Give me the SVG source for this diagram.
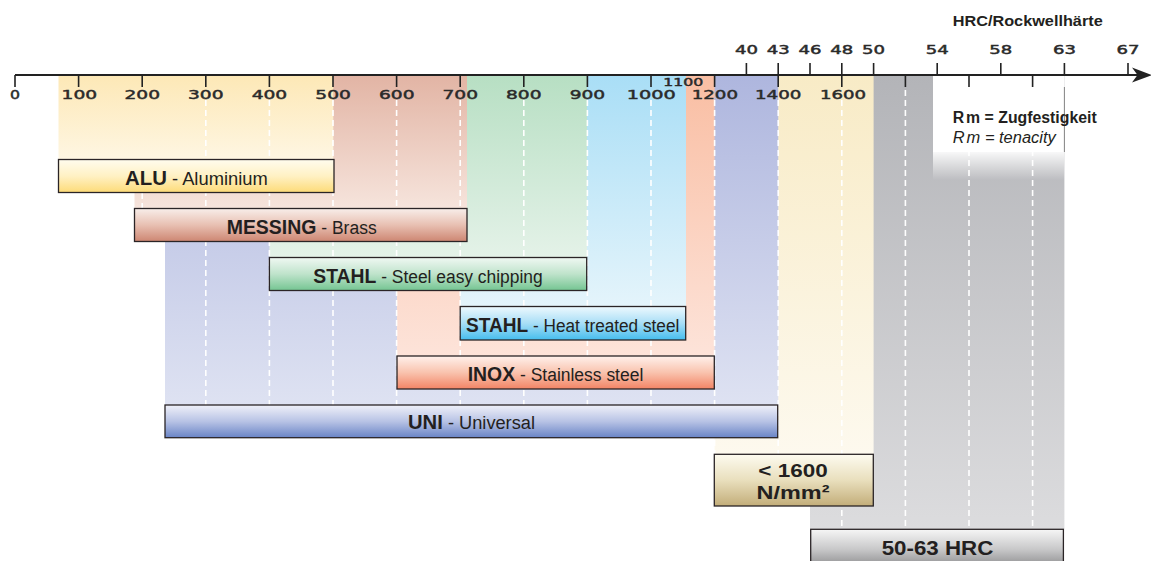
<svg xmlns="http://www.w3.org/2000/svg" width="1151" height="561" viewBox="0 0 1151 561">
<defs>
<style>
.tk{stroke:#222;stroke-width:1.6;fill:none}
.ax{stroke:#222;stroke-width:2.2;fill:none}
.dash{stroke:#fff;stroke-width:1.6;stroke-dasharray:6 4;fill:none}
.num{font-family:"DejaVu Sans",sans-serif;font-size:12px;fill:#2a2a2a;stroke:#2a2a2a;stroke-width:0.45}
.lbl{font-family:"Liberation Sans",Arial,sans-serif;fill:#231f20;white-space:pre}
.b{font-weight:bold;font-size:20px}
.r{font-size:18px}
.box{stroke:#2a2426;stroke-width:1.3}
</style>
<linearGradient id="gAluB" x1="0" y1="0" x2="0" y2="1"><stop offset="0" stop-color="#fde8b6"/><stop offset="1" stop-color="#fef6e2"/></linearGradient>
<linearGradient id="gMesB" x1="0" y1="0" x2="0" y2="1"><stop offset="0" stop-color="#e2b4a4"/><stop offset="1" stop-color="#f6e4dc"/></linearGradient>
<linearGradient id="gStaB" x1="0" y1="0" x2="0" y2="1"><stop offset="0" stop-color="#b7dfc3"/><stop offset="1" stop-color="#e4f2e8"/></linearGradient>
<linearGradient id="gHeaB" x1="0" y1="0" x2="0" y2="1"><stop offset="0" stop-color="#a9def6"/><stop offset="1" stop-color="#e4f4fb"/></linearGradient>
<linearGradient id="gInoB" x1="0" y1="0" x2="0" y2="1"><stop offset="0" stop-color="#f9bea3"/><stop offset="1" stop-color="#fde3d9"/></linearGradient>
<linearGradient id="gUniB" x1="0" y1="0" x2="0" y2="1"><stop offset="0" stop-color="#aeb6de"/><stop offset="1" stop-color="#dee2f2"/></linearGradient>
<linearGradient id="gCreB" x1="0" y1="0" x2="0" y2="1"><stop offset="0" stop-color="#f8ebc6"/><stop offset="1" stop-color="#fdf9ee"/></linearGradient>
<linearGradient id="gGryB" x1="0" y1="0" x2="0" y2="1"><stop offset="0" stop-color="#b3b4b8"/><stop offset="1" stop-color="#dcdcde"/></linearGradient>
<linearGradient id="gFade" x1="0" y1="0" x2="0" y2="1"><stop offset="0" stop-color="#fff" stop-opacity="0.9"/><stop offset="1" stop-color="#fff" stop-opacity="0"/></linearGradient>
<linearGradient id="gAlu" x1="0" y1="0" x2="0" y2="1"><stop offset="0" stop-color="#fffcee"/><stop offset="0.5" stop-color="#fff1c4"/><stop offset="1" stop-color="#fddb78"/></linearGradient>
<linearGradient id="gMes" x1="0" y1="0" x2="0" y2="1"><stop offset="0" stop-color="#f8eeea"/><stop offset="0.5" stop-color="#e8c0b2"/><stop offset="1" stop-color="#cd8672"/></linearGradient>
<linearGradient id="gSta" x1="0" y1="0" x2="0" y2="1"><stop offset="0" stop-color="#f0f8f3"/><stop offset="0.5" stop-color="#bfe3cb"/><stop offset="1" stop-color="#74c592"/></linearGradient>
<linearGradient id="gHea" x1="0" y1="0" x2="0" y2="1"><stop offset="0" stop-color="#eef9fe"/><stop offset="0.5" stop-color="#a8def6"/><stop offset="1" stop-color="#45bdee"/></linearGradient>
<linearGradient id="gIno" x1="0" y1="0" x2="0" y2="1"><stop offset="0" stop-color="#fff1ec"/><stop offset="0.5" stop-color="#f9c3ae"/><stop offset="1" stop-color="#f28465"/></linearGradient>
<linearGradient id="gUni" x1="0" y1="0" x2="0" y2="1"><stop offset="0" stop-color="#f0f1f9"/><stop offset="0.5" stop-color="#b8c3e5"/><stop offset="1" stop-color="#6984c6"/></linearGradient>
<linearGradient id="gCre" x1="0" y1="0" x2="0" y2="1"><stop offset="0" stop-color="#fdfbf0"/><stop offset="0.5" stop-color="#e9dfbd"/><stop offset="1" stop-color="#c2ad79"/></linearGradient>
<linearGradient id="gGry" x1="0" y1="0" x2="0" y2="1"><stop offset="0" stop-color="#f6f6f6"/><stop offset="0.5" stop-color="#c8c8c9"/><stop offset="1" stop-color="#858587"/></linearGradient>
</defs>

<rect width="1151" height="561" fill="#fff"/>

<g id="bands">
<rect x="810" y="75" width="254.4" height="454.3" fill="url(#gGryB)"/>
<rect x="933" y="76" width="131.4" height="76" fill="#fff"/>
<rect x="933" y="152" width="131.4" height="28" fill="url(#gFade)"/>
<rect x="714.6" y="75" width="159" height="379" fill="url(#gCreB)"/>
<rect x="165" y="75" width="613.2" height="330" fill="url(#gUniB)"/>
<rect x="397" y="75" width="317.6" height="281" fill="url(#gInoB)"/>
<rect x="460.2" y="75" width="225.8" height="231" fill="url(#gHeaB)"/>
<rect x="269.4" y="75" width="317.6" height="182.5" fill="url(#gStaB)"/>
<rect x="134.5" y="75" width="332.5" height="133.5" fill="url(#gMesB)"/>
<rect x="58.5" y="75" width="274.8" height="84.5" fill="url(#gAluB)"/>
<line x1="1064.4" y1="87" x2="1064.4" y2="152" stroke="#777" stroke-width="0.9"/>
</g>

<g id="grid">
<line class="dash" x1="142.2" y1="193" x2="142.2" y2="529"/>
<line class="dash" x1="205.8" y1="100" x2="205.8" y2="529"/>
<line class="dash" x1="269.4" y1="100" x2="269.4" y2="529"/>
<line class="dash" x1="333" y1="100" x2="333" y2="529"/>
<line class="dash" x1="396.6" y1="100" x2="396.6" y2="529"/>
<line class="dash" x1="460.2" y1="100" x2="460.2" y2="529"/>
<line class="dash" x1="523.8" y1="100" x2="523.8" y2="529"/>
<line class="dash" x1="587.4" y1="100" x2="587.4" y2="529"/>
<line class="dash" x1="651" y1="100" x2="651" y2="529"/>
<line class="dash" x1="714.6" y1="100" x2="714.6" y2="529"/>
<line class="dash" x1="778.2" y1="100" x2="778.2" y2="529"/>
<line class="dash" x1="841.8" y1="100" x2="841.8" y2="529"/>
<line class="dash" x1="905.4" y1="90" x2="905.4" y2="529"/>
<line class="dash" x1="969" y1="90" x2="969" y2="529"/>
<line class="dash" x1="1032.6" y1="90" x2="1032.6" y2="529"/>
</g>

<g id="axis">
<line class="ax" x1="15" y1="75" x2="1138" y2="75"/>
<polygon points="1152,75 1132,67.5 1137.5,75 1132,82.5" fill="#222"/>
<path class="tk" d="M15 75V87M78.6 75V87M142.2 75V87M205.8 75V87M269.4 75V87M333 75V87M396.6 75V87M460.2 75V87M523.8 75V87M587.4 75V87M651 75V87M714.6 75V87M778.2 75V87M841.8 75V87M905.4 75V87M969 75V87M1032.6 75V87"/>
<path class="tk" d="M746.4 63V75M778.2 63V75M810 63V75M841.8 63V75M873.6 63V75M937.2 63V75M1000.8 63V75M1064.4 63V75M1128 63V75"/>
<g class="num">
<text x="10" y="99" textLength="10" lengthAdjust="spacingAndGlyphs">0</text>
<text x="61.6" y="99" textLength="35.5" lengthAdjust="spacingAndGlyphs">100</text>
<text x="124.5" y="99" textLength="35.5" lengthAdjust="spacingAndGlyphs">200</text>
<text x="188" y="99" textLength="35.5" lengthAdjust="spacingAndGlyphs">300</text>
<text x="251.7" y="99" textLength="35.5" lengthAdjust="spacingAndGlyphs">400</text>
<text x="315.3" y="99" textLength="35.5" lengthAdjust="spacingAndGlyphs">500</text>
<text x="379" y="99" textLength="35.5" lengthAdjust="spacingAndGlyphs">600</text>
<text x="442.5" y="99" textLength="35.5" lengthAdjust="spacingAndGlyphs">700</text>
<text x="506" y="99" textLength="35.5" lengthAdjust="spacingAndGlyphs">800</text>
<text x="569.7" y="99" textLength="35.5" lengthAdjust="spacingAndGlyphs">900</text>
<text x="626.7" y="99" textLength="49" lengthAdjust="spacingAndGlyphs">1000</text>
<text x="663.3" y="86" font-size="11" textLength="40" lengthAdjust="spacingAndGlyphs">1100</text>
<text x="691.7" y="99" textLength="46.3" lengthAdjust="spacingAndGlyphs">1200</text>
<text x="755" y="99" textLength="46.3" lengthAdjust="spacingAndGlyphs">1400</text>
<text x="820" y="99" textLength="46" lengthAdjust="spacingAndGlyphs">1600</text>
<text x="735" y="54" textLength="23" lengthAdjust="spacingAndGlyphs">40</text>
<text x="766.8" y="54" textLength="23" lengthAdjust="spacingAndGlyphs">43</text>
<text x="798.5" y="54" textLength="23" lengthAdjust="spacingAndGlyphs">46</text>
<text x="830.3" y="54" textLength="23" lengthAdjust="spacingAndGlyphs">48</text>
<text x="862.1" y="54" textLength="23" lengthAdjust="spacingAndGlyphs">50</text>
<text x="925.7" y="54" textLength="23" lengthAdjust="spacingAndGlyphs">54</text>
<text x="989.3" y="54" textLength="23" lengthAdjust="spacingAndGlyphs">58</text>
<text x="1052.9" y="54" textLength="23" lengthAdjust="spacingAndGlyphs">63</text>
<text x="1116.5" y="54" textLength="23" lengthAdjust="spacingAndGlyphs">67</text>
</g>
<text class="lbl" x="952.7" y="25.8" font-size="15.5" font-weight="bold" fill="#2a2a2a" textLength="150" lengthAdjust="spacingAndGlyphs">HRC/Rockwellhärte</text>
</g>

<g id="legend">
<text class="lbl" x="952.7" y="123.3" font-size="16" font-weight="bold" textLength="144" lengthAdjust="spacingAndGlyphs">R<tspan dx="2">m = Zugfestigkeit</tspan></text>
<text class="lbl" x="952.7" y="143.3" font-size="16" font-style="italic" fill="#333" textLength="103" lengthAdjust="spacingAndGlyphs">R<tspan dx="2">m = tenacity</tspan></text>
</g>

<g id="alu">
<rect class="box" x="58.5" y="159.5" width="275.5" height="33" fill="url(#gAlu)" stroke="#2b3560"/>
<text class="lbl" x="125" y="184.5" textLength="142.7" lengthAdjust="spacingAndGlyphs"><tspan class="b">ALU</tspan><tspan class="r"> - Aluminium</tspan></text>
</g>

<g id="messing">
<rect class="box" x="134.5" y="208.5" width="332.5" height="33" fill="url(#gMes)"/>
<text class="lbl" x="226.7" y="233.5" textLength="150" lengthAdjust="spacingAndGlyphs"><tspan class="b">MESSING</tspan><tspan class="r"> - Brass</tspan></text>
</g>

<g id="stahl-easy">
<rect class="box" x="269.4" y="257.5" width="317.3" height="33" fill="url(#gSta)" stroke="#34443a"/>
<text class="lbl" x="313.3" y="283.3" textLength="229.4" lengthAdjust="spacingAndGlyphs"><tspan class="b">STAHL</tspan><tspan class="r"> - Steel easy chipping</tspan></text>
</g>

<g id="stahl-heat">
<rect class="box" x="460.2" y="306.5" width="225.5" height="33.5" fill="url(#gHea)"/>
<text class="lbl" x="466" y="331.7" textLength="213.3" lengthAdjust="spacingAndGlyphs"><tspan class="b">STAHL</tspan><tspan class="r"> - Heat treated steel</tspan></text>
</g>

<g id="inox">
<rect class="box" x="397" y="356" width="317.3" height="33" fill="url(#gIno)"/>
<text class="lbl" x="467.7" y="380.7" textLength="175.6" lengthAdjust="spacingAndGlyphs"><tspan class="b">INOX</tspan><tspan class="r"> - Stainless steel</tspan></text>
</g>

<g id="uni">
<rect class="box" x="165" y="405" width="612.7" height="32.7" fill="url(#gUni)"/>
<text class="lbl" x="408" y="429.3" textLength="127" lengthAdjust="spacingAndGlyphs"><tspan class="b">UNI</tspan><tspan class="r"> - Universal</tspan></text>
</g>

<g id="n1600">
<rect class="box" x="714.3" y="454.3" width="159" height="51.7" fill="url(#gCre)"/>
<text class="lbl" x="758.3" y="477.3" font-size="19" font-weight="bold" textLength="69.4" lengthAdjust="spacingAndGlyphs">&lt; 1600</text>
<text class="lbl" x="756.5" y="499.3" font-size="19" font-weight="bold" textLength="73" lengthAdjust="spacingAndGlyphs">N/mm²</text>
</g>

<g id="hrc">
<rect class="box" x="810.7" y="529.3" width="252.7" height="40" fill="url(#gGry)"/>
<text class="lbl" x="881.7" y="555" font-size="21" font-weight="bold" textLength="111.6" lengthAdjust="spacingAndGlyphs">50-63 HRC</text>
</g>
</svg>
